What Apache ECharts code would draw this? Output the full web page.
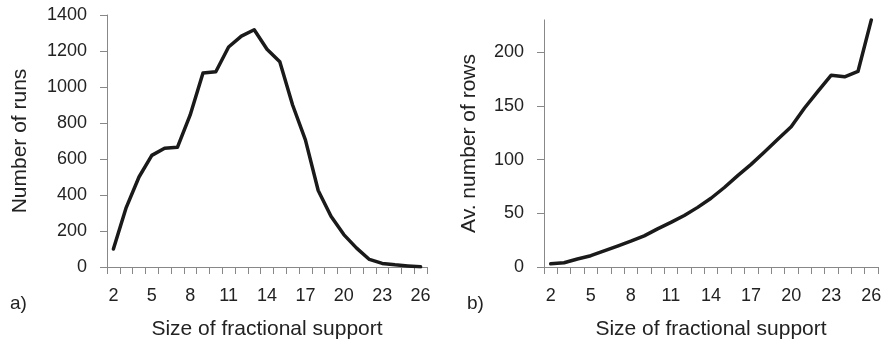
<!DOCTYPE html>
<html>
<head>
<meta charset="utf-8">
<script src="https://cdn.jsdelivr.net/npm/echarts@6/dist/echarts.min.js"></script>
<style>
html,body{margin:0;padding:0;background:#fff;}
#c{width:885px;height:345px;}
</style>
</head>
<body>
<div id="c"></div>
<script>
var categories = ['2','3','4','5','6','7','8','9','10','11','12','13','14','15','16','17','18','19','20','21','22','23','24','25','26'];
var runsValues = [100, 330, 500, 620, 660, 665, 845, 1078, 1085, 1222, 1283, 1318, 1210, 1140, 900, 706, 425, 282, 180, 105, 42, 20, 12, 6, 1];
var rowsValues = [3, 4, 7.5, 10.5, 15, 19.5, 24, 29, 35.5, 41.5, 48, 55.5, 64, 74, 85, 95.5, 107, 119, 130.5, 148, 163.5, 178.5, 177, 182, 230];
var leftTicks = [0, 200, 400, 600, 800, 1000, 1200, 1400];
var rightTicks = [0, 50, 100, 150, 200];

var FONT = '"Liberation Sans", Arial, sans-serif';
var TXT = '#222';
var AX = '#888';
var TICKFS = 18;
var TITLEFS = 21;

function xAxisCfg(gi) {
  return {
    type: 'category', gridIndex: gi, data: categories, boundaryGap: true,
    name: 'Size of fractional support', nameLocation: 'middle', nameGap: 52,
    nameTextStyle: {fontFamily: FONT, fontSize: TITLEFS, color: TXT},
    axisLine: {lineStyle: {color: AX, width: 1}},
    axisTick: {show: true, interval: 0, length: 7, lineStyle: {color: AX}},
    axisLabel: {interval: 2, margin: 20, fontFamily: FONT, fontSize: TICKFS, color: TXT},
    splitLine: {show: false}
  };
}
function plain(v) { return String(v); }

var chart = echarts.init(document.getElementById('c'), null, {renderer: 'canvas'});
chart.setOption({
  animation: false,
  backgroundColor: '#fff',
  grid: [
    {left: 107, top: 15, width: 320, height: 252},
    {left: 544, top: 268.3 - 230 * 1.08, width: 334, height: 230 * 1.08}
  ],
  xAxis: [xAxisCfg(0), xAxisCfg(1)],
  yAxis: [
    {
      type: 'value', gridIndex: 0, min: 0, max: 1400, interval: 200,
      name: 'Number of runs', nameLocation: 'middle', nameGap: 76,
      nameTextStyle: {fontFamily: FONT, fontSize: TITLEFS, color: TXT},
      axisLine: {show: true, lineStyle: {color: AX, width: 1}},
      axisTick: {show: true, length: 7, lineStyle: {color: AX}, customValues: leftTicks},
      axisLabel: {margin: 20, fontFamily: FONT, fontSize: TICKFS, color: TXT, customValues: leftTicks, formatter: plain},
      splitLine: {show: false}
    },
    {
      type: 'value', gridIndex: 1, min: 0, max: 230, interval: 50,
      name: 'Av. number of rows', nameLocation: 'middle', nameGap: 64,
      nameTextStyle: {fontFamily: FONT, fontSize: TITLEFS, color: TXT},
      axisLine: {show: true, lineStyle: {color: AX, width: 1}},
      axisTick: {show: true, length: 7, lineStyle: {color: AX}, customValues: rightTicks},
      axisLabel: {margin: 20, fontFamily: FONT, fontSize: TICKFS, color: TXT, customValues: rightTicks, formatter: plain},
      splitLine: {show: false}
    }
  ],
  series: [
    {type: 'line', xAxisIndex: 0, yAxisIndex: 0, data: runsValues, symbol: 'none',
     lineStyle: {color: '#1a1a1a', width: 3.5, join: 'round', cap: 'round'}},
    {type: 'line', xAxisIndex: 1, yAxisIndex: 1, data: rowsValues, symbol: 'none',
     lineStyle: {color: '#1a1a1a', width: 3.5, join: 'round', cap: 'round'}}
  ],
  graphic: [
    {type: 'text', left: 10, top: 294, style: {text: 'a)', font: '19px ' + FONT, fill: TXT}},
    {type: 'text', left: 467, top: 294, style: {text: 'b)', font: '19px ' + FONT, fill: TXT}}
  ]
});
</script>
</body>
</html>
